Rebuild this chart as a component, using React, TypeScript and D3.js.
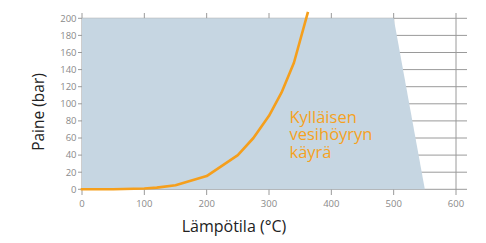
import React from "react";
import * as d3 from "d3";

const xTicks = [0, 100, 200, 300, 400, 500, 600];
const yTicks = [0, 20, 40, 60, 80, 100, 120, 140, 160, 180, 200];
const regionTemp = [0, 0, 500, 550];
const regionPress = [0, 200, 200, 0];
const curveTemp = [0, 50, 100, 120, 150, 200, 250, 275, 300, 320, 340, 362];
const curvePress = [0, 0.1, 1, 2, 4.8, 15.5, 40, 60, 86, 113, 148, 206];
const curveLabel = ["Kylläisen", "vesihöyryn", "käyrä"];
const xTitle = "Lämpötila (°C)";
const yTitle = "Paine (bar)";

export default function App() {
  const W = 486, H = 243;
  const x = d3.scaleLinear().domain([0, 600]).range([82, 456]);
  const y = d3.scaleLinear().domain([0, 200]).range([189.3, 18.3]);
  const region = regionTemp.map((t, i) => [x(t), y(regionPress[i])] as [number, number]);
  const line = d3.line<number>().x((d, i) => x(curveTemp[i])).y((d) => y(d)).curve(d3.curveLinear);
  const font = "'Open Sans', 'Noto Sans', sans-serif";
  return (
    <svg width={W} height={H} style={{ position: "absolute", left: 0, top: 0, background: "#fff" }} fontFamily={font}>
      {xTicks.map((t) => (
        <line key={"vx" + t} x1={x(t)} x2={x(t)} y1={13} y2={195} stroke="#9a9a9a" strokeWidth={1} />
      ))}
      {yTicks.map((t) => (
        <line key={"hy" + t} x1={78} x2={467} y1={y(t)} y2={y(t)} stroke="#9a9a9a" strokeWidth={1} />
      ))}
      <polygon points={region.map((p) => p.join(",")).join(" ")} fill="#c6d6e2" />
      <path d={line(curvePress) || ""} fill="none" stroke="#f59f1c" strokeWidth={2.6} strokeLinejoin="round" strokeLinecap="square" />
      {yTicks.map((t) => (
        <text key={"yl" + t} x={76.5} y={y(t)} dy="0.35em" textAnchor="end" fontSize={9.5} fill="#8a8a8a">{t}</text>
      ))}
      {xTicks.map((t) => (
        <text key={"xl" + t} x={x(t)} y={206.5} textAnchor="middle" fontSize={9.5} fill="#8a8a8a">{t}</text>
      ))}
      <text x={289.5} y={122.5} fontSize={16.5} fill="#f5a21f">
        {curveLabel.map((s, i) => (
          <tspan key={s} x={289.5} dy={i === 0 ? 0 : 17.8}>{s}</tspan>
        ))}
      </text>
      <text x={234} y={232} textAnchor="middle" fontSize={16} fill="#222">{xTitle}</text>
      <text transform={`translate(44,112) rotate(-90)`} textAnchor="middle" fontSize={15.5} fill="#222">{yTitle}</text>
    </svg>
  );
}
